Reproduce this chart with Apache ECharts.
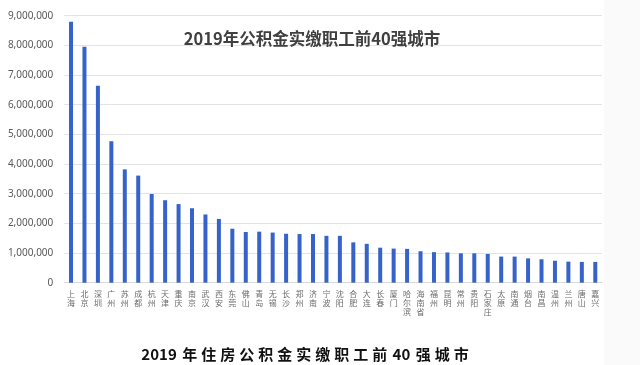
<!DOCTYPE html>
<html>
<head>
<meta charset="utf-8">
<script src="https://cdn.jsdelivr.net/npm/echarts@6/dist/echarts.min.js"></script>
<style>
html,body{margin:0;padding:0;background:#fff;}
#c{width:640px;height:365px;}
</style>
</head>
<body>
<div id="c"></div>
<script>
const cities = ['上海','北京','深圳','广州','苏州','成都','杭州','天津','重庆','南京','武汉','西安','东莞','佛山','青岛','无锡','长沙','郑州','济南','宁波','沈阳','合肥','大连','长春','厦门','哈尔滨','海南省','福州','昆明','常州','贵阳','石家庄','太原','南通','烟台','南昌','温州','兰州','唐山','嘉兴'];
const workers = [8800000,7950000,6640000,4770000,3820000,3610000,2990000,2780000,2650000,2510000,2300000,2150000,1820000,1710000,1720000,1690000,1650000,1640000,1640000,1580000,1580000,1360000,1310000,1180000,1150000,1140000,1060000,1030000,1020000,990000,990000,970000,880000,880000,820000,790000,740000,710000,700000,700000];
const yTicks = [0,1000000,2000000,3000000,4000000,5000000,6000000,7000000,8000000,9000000];
const chartTitle = '2019年公积金实缴职工前40强城市';
const caption = '2019 年住房公积金实缴职工前 40 强城市';

const captionRich = caption.split('').map(c => /[0-9 ]/.test(c) ? c : '{s|' + c + '}').join('');

const chart = echarts.init(document.getElementById('c'), null, {renderer:'canvas'});
chart.setOption({
  backgroundColor:'#ffffff',
  animation:false,
  title:[
    {text:chartTitle, left:307, top:25, textAlign:'center',
     textStyle:{fontFamily:'Noto Sans CJK SC', fontSize:16.5, fontWeight:'bold', color:'#404040'}},
    {text:captionRich, left:301, top:342, textAlign:'center',
     textStyle:{fontFamily:'Noto Sans CJK SC', fontSize:15, fontWeight:'bold', color:'#111111',
       rich:{s:{fontFamily:'Noto Sans CJK SC', fontSize:15, fontWeight:'bold', color:'#111111', padding:[0,2,0,2]}}}}
  ],
  graphic:[
    {type:'rect', right:0, top:0, shape:{width:36, height:365}, style:{fill:'#fafafa'}, z:-10}
  ],
  grid:{left:64.3, right:38, top:15.7, bottom:82.3, containLabel:false},
  xAxis:{
    type:'category', data:cities,
    axisLine:{show:true, lineStyle:{color:'#d9d9d9', width:1}},
    axisTick:{show:false},
    axisLabel:{interval:0, margin:7, color:'#6b6b6b', fontSize:8, lineHeight:9,
      fontFamily:'Noto Sans CJK SC', verticalAlign:'top',
      formatter:v=>v.split('').join('\n')}
  },
  yAxis:{
    type:'value', min:yTicks[0], max:yTicks[yTicks.length-1], interval:1000000,
    axisLine:{show:false}, axisTick:{show:false},
    splitLine:{lineStyle:{color:'#e3e3e3', width:1}},
    axisLabel:{margin:11, color:'#595959', fontSize:10, fontFamily:'Noto Sans',
      formatter:v=>v.toLocaleString('en-US')}
  },
  series:[{
    type:'bar', data:workers, barWidth:4,
    itemStyle:{color:'#3563c9'}
  }]
});
</script>
</body>
</html>
